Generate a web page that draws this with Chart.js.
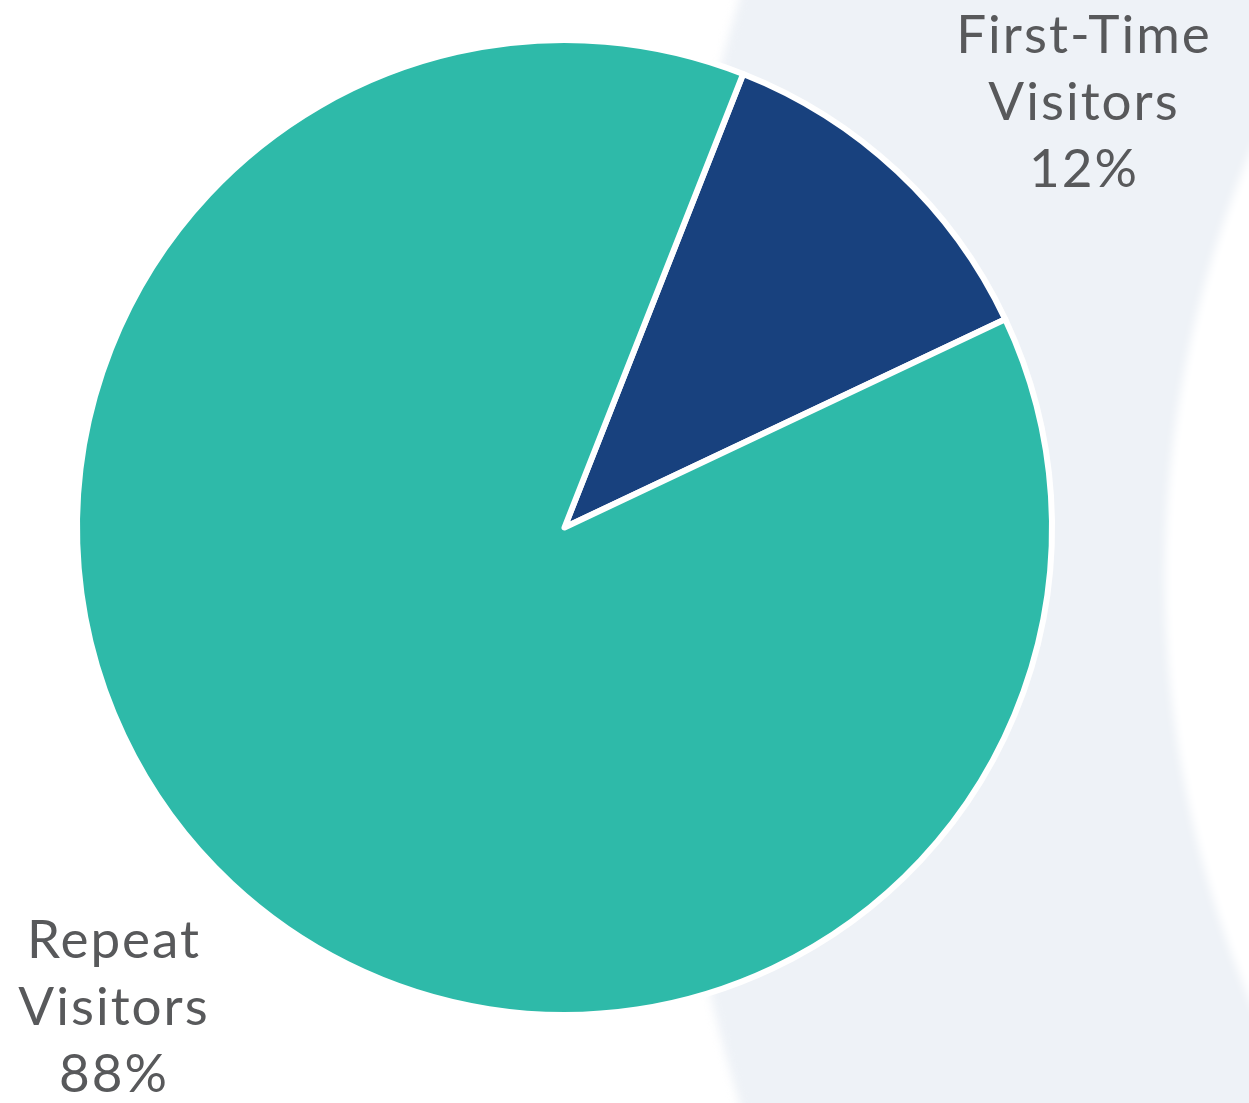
<!DOCTYPE html>
<html>
<head>
<meta charset="utf-8">
<script src="https://cdn.jsdelivr.net/npm/chart.js@4.4.0/dist/chart.umd.min.js"></script>
<style>
  html, body { margin: 0; padding: 0; background: #ffffff; }
  #wrap { position: relative; width: 1249px; height: 1103px; }
</style>
</head>
<body>
<div id="wrap"><canvas id="visitorsChart" width="1249" height="1103"></canvas></div>
<script>
// Visitor split
const segmentNames = ['First-Time Visitors', 'Repeat Visitors'];
const labelLines = [['First-Time', 'Visitors'], ['Repeat', 'Visitors']];
const shares = [12, 88];
const sliceColors = ['#18417e', '#2ebaa9'];

// Soft grey-blue backdrop behind the right half of the pie
const backdrop = {
    id: 'backdrop',
    beforeDraw(chart) {
        const ctx = chart.ctx;
        ctx.save();
        ctx.filter = 'blur(5px)';
        ctx.fillStyle = '#eef2f7';
        ctx.beginPath();
        ctx.arc(2570, 551, 1912, 0, Math.PI * 2);
        ctx.fill();
        ctx.fillStyle = '#ffffff';
        ctx.beginPath();
        ctx.arc(1165 + 1100, 577, 1100, 0, Math.PI * 2);
        ctx.fill();
        ctx.restore();
    }
};

// Category name + percentage placed outside each slice
const outsideLabels = {
    id: 'outsideLabels',
    afterDatasetsDraw(chart, args, opts) {
        const ctx = chart.ctx;
        const total = shares.reduce((a, b) => a + b, 0);
        ctx.save();
        ctx.font = '53px Lato, "Open Sans", sans-serif';
        ctx.letterSpacing = '2px';
        ctx.fillStyle = '#58595b';
        ctx.textAlign = 'center';
        ctx.textBaseline = 'middle';
        opts.anchors.forEach((pos, i) => {
            const lines = labelLines[i].concat([Math.round(shares[i] / total * 100) + '%']);
            lines.forEach((line, j) => {
                ctx.fillText(line, pos.x, pos.y + j * 67);
            });
        });
        ctx.restore();
    }
};

new Chart(document.getElementById('visitorsChart'), {
    type: 'pie',
    data: {
        labels: segmentNames,
        datasets: [{
            data: shares,
            backgroundColor: sliceColors,
            borderColor: '#ffffff',
            borderWidth: 6,
            borderJoinStyle: 'round'
        }]
    },
    options: {
        responsive: false,
        animation: false,
        rotation: 21.5,
        layout: {
            padding: { left: 74, right: 194, top: 37, bottom: 85 }
        },
        plugins: {
            legend: { display: false },
            tooltip: { enabled: false },
            outsideLabels: {
                anchors: [{ x: 1084, y: 36 }, { x: 114, y: 941 }]
            }
        }
    },
    plugins: [backdrop, outsideLabels]
});
</script>
</body>
</html>
